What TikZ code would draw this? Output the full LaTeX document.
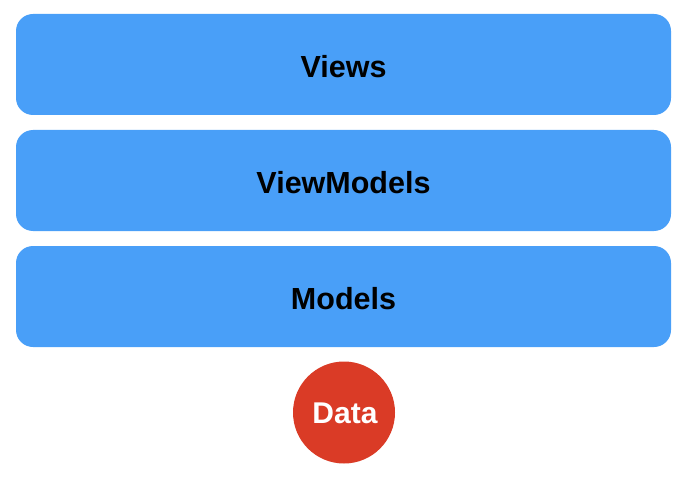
\documentclass[tikz,border=0pt]{standalone}
\usepackage{fontspec}
\setmainfont{Liberation Sans}
\definecolor{layerblue}{RGB}{73,159,248}
\definecolor{datared}{RGB}{218,59,38}
\begin{document}
\begin{tikzpicture}[x=1pt,y=-1pt,
  layer/.style={fill=layerblue, draw=none, rounded corners=17pt, minimum width=655pt, minimum height=101pt, inner sep=0pt, text=black},
  layertext/.style={font=\fontsize{30.5}{36}\selectfont\bfseries, text=black, inner sep=0pt},
  datanode/.style={circle, fill=datared, draw=none, minimum size=102pt, inner sep=0pt},
  datatext/.style={font=\fontsize{30}{35}\selectfont\bfseries, text=white, inner sep=0pt}]
\useasboundingbox (0,0) rectangle (692,478);
\node[layer] (views) at (343.5,64.5) {};
\node[layertext] (viewsT) at (343.5,66.5) {Views};
\node[layer] (viewmodels) at (343.5,180.5) {};
\node[layertext] (viewmodelsT) at (343.5,182.5) {ViewModels};
\node[layer] (models) at (343.5,296.5) {};
\node[layertext] (modelsT) at (343.5,298.5) {Models};
\node[datanode] (data) at (344,412.5) {};
\node[datatext] (dataT) at (345,413.5) {Data};
\end{tikzpicture}
\end{document}
